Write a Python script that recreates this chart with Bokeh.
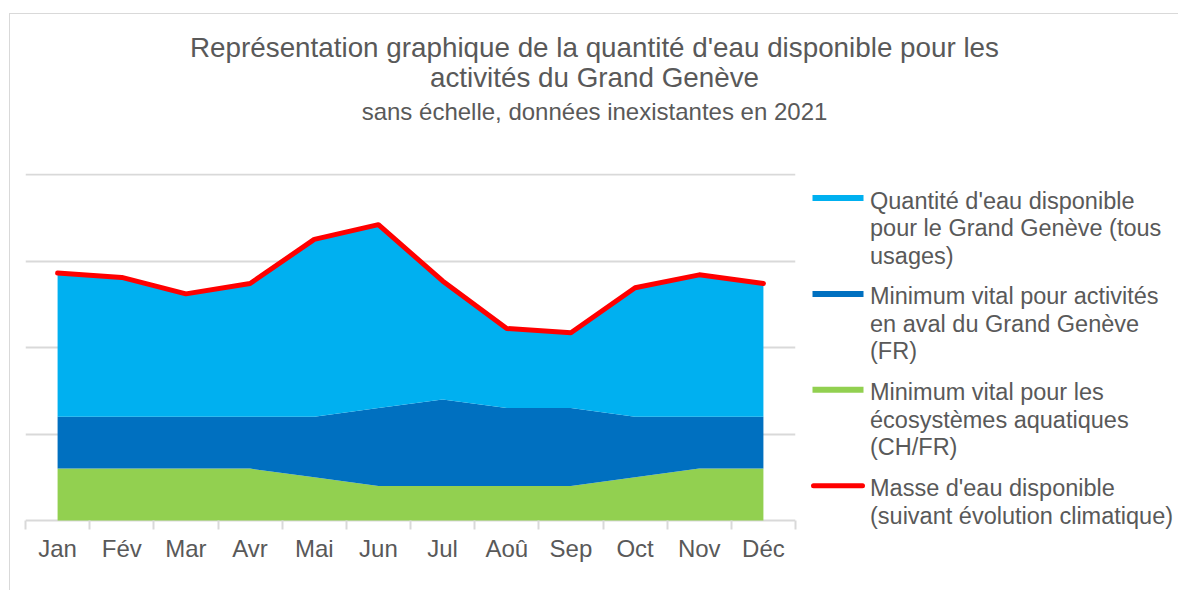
from bokeh.plotting import figure
from bokeh.layouts import column, row
from bokeh.models import ColumnDataSource, Range1d, FixedTicker
from bokeh.core.properties import value
from bokeh.embed import file_html
from bokeh.resources import INLINE

# ---- data (arbitrary units: "sans échelle") ----
months = ["Jan", "Fév", "Mar", "Avr", "Mai", "Jun", "Jul", "Aoû", "Sep", "Oct", "Nov", "Déc"]
eco = [6, 6, 6, 6, 5, 4, 4, 4, 4, 5, 6, 6]                 # Minimum vital écosystèmes aquatiques
aval = [6, 6, 6, 6, 7, 9, 10, 9, 9, 7, 6, 6]               # Minimum vital activités en aval
dispo = [16.6, 16.1, 14.2, 15.4, 20.5, 21.2, 13.7, 9.2, 8.7, 14.9, 16.4, 15.4]  # Quantité disponible
masse = [28.6, 28.1, 26.2, 27.4, 32.5, 34.2, 27.7, 22.2, 21.7, 26.9, 28.4, 27.4]  # Masse d'eau
grid_ticks = [0, 10, 20, 30, 40]

title_lines = ["Représentation graphique de la quantité d'eau disponible pour les",
               "activités du Grand Genève"]
subtitle = "sans échelle, données inexistantes en 2021"
legend_lines = [
    ["Quantité d'eau disponible", "pour le Grand Genève (tous", "usages)"],
    ["Minimum vital pour activités", "en aval du Grand Genève", "(FR)"],
    ["Minimum vital pour les", "écosystèmes aquatiques", "(CH/FR)"],
    ["Masse d'eau disponible", "(suivant évolution climatique)"],
]
area_colors = ["#92D050", "#0070C0", "#00B0F0"]   # bottom -> top
legend_colors = ["#00B0F0", "#0070C0", "#92D050", "#FF0000"]
RED = "#FF0000"
FONT = "Liberation Sans"
TXT = "#595959"
GRID = "#d9d9d9"

# layout geometry (pixels)
TOTAL_W = 1168
TH = 146
MAIN_W, ROW_H = 790, 430
LEG_W = TOTAL_W - MAIN_W
B_TOP, B_BOTTOM = 13, 61
FRAME_H = ROW_H - B_TOP - B_BOTTOM

# ---------------- title strip ----------------
tfig = figure(width=TOTAL_W, height=TH, output_backend="svg", toolbar_location=None,
              x_range=Range1d(0, TOTAL_W), y_range=Range1d(TH, 0),
              min_border=0, x_axis_type=None, y_axis_type=None)
tfig.grid.visible = False
tfig.outline_line_color = None
tfig.text(x=[584, 584], y=[33.4, 62.7], text=title_lines, text_align="center",
          text_baseline="middle", text_font=value(FONT), text_font_size="27.8px",
          text_color=TXT)
tfig.text(x=[584], y=[96.8], text=[subtitle], text_align="center",
          text_baseline="middle", text_font=value(FONT), text_font_size="24px",
          text_color=TXT)

# ---------------- main chart ----------------
idx = list(range(1, len(months) + 1))
src = ColumnDataSource(dict(x=idx, eco=eco, aval=aval, dispo=dispo, masse=masse))

px_per_unit = 346 / 40.0
p = figure(width=MAIN_W, height=ROW_H, output_backend="svg", toolbar_location=None,
           x_range=Range1d(0.5, len(months) + 0.5),
           y_range=Range1d(-9 / px_per_unit, 40 + 1 / px_per_unit),
           min_border_left=15, min_border_right=5,
           min_border_top=B_TOP, min_border_bottom=B_BOTTOM)
p.outline_line_color = None

p.varea_stack(["eco", "aval", "dispo"], x="x", source=src, color=area_colors)
p.line("x", "masse", source=src, line_color=RED, line_width=5,
       line_join="round", line_cap="round")

p.yaxis.visible = False
p.xgrid.visible = False
p.ygrid.ticker = FixedTicker(ticks=grid_ticks)
p.ygrid.grid_line_color = GRID
p.ygrid.grid_line_width = 2

ax = p.xaxis[0]
ax.ticker = FixedTicker(ticks=idx, minor_ticks=[i - 0.5 for i in idx] + [len(months) + 0.5])
ax.major_label_overrides = {i: m for i, m in zip(idx, months)}
ax.major_tick_in = 0
ax.major_tick_out = 0
ax.minor_tick_in = 9
ax.minor_tick_out = 0
ax.minor_tick_line_color = GRID
ax.minor_tick_line_width = 2
ax.axis_line_color = None
ax.major_label_text_font = FONT
ax.major_label_text_font_size = "24px"
ax.major_label_text_color = TXT
ax.major_label_standoff = 5

# ---------------- legend ----------------
lfig = figure(width=LEG_W, height=ROW_H, output_backend="svg", toolbar_location=None,
              x_range=Range1d(0, LEG_W), y_range=Range1d(FRAME_H, 0),
              min_border_left=0, min_border_right=0,
              min_border_top=B_TOP, min_border_bottom=B_BOTTOM,
              x_axis_type=None, y_axis_type=None)
lfig.grid.visible = False
lfig.outline_line_color = None

first_center, entry_pitch, line_pitch = 27.0, 95.9, 27.5
sw_left, sw_right, sw_h, text_x = 12, 63, 6, 69.5
tx, ty, tt = [], [], []
sw_y = []
for k, lines in enumerate(legend_lines):
    c = first_center + k * entry_pitch
    sw_y.append(c - 2.5)
    for j, line_txt in enumerate(lines):
        tx.append(text_x)
        ty.append(c + j * line_pitch)
        tt.append(line_txt)

n_area = 3
lfig.quad(left=[sw_left] * n_area, right=[sw_right] * n_area,
          top=[y - sw_h / 2 for y in sw_y[:n_area]], bottom=[y + sw_h / 2 for y in sw_y[:n_area]],
          fill_color=legend_colors[:n_area], line_color=None)
lfig.segment(x0=[sw_left + 1], x1=[sw_right - 1], y0=[sw_y[3]], y1=[sw_y[3]],
             line_color=legend_colors[3], line_width=5, line_cap="round")
lfig.text(x=tx, y=ty, text=tt, text_align="left", text_baseline="middle",
          text_font=value(FONT), text_font_size="23.5px", text_color=TXT)

layout = column(tfig, row(p, lfig), margin=(13, 0, 0, 9))
layout.styles = {"border-top": "1px solid #d9d9d9", "border-left": "1px solid #d9d9d9"}

open("out.html", "w").write(file_html(layout, INLINE))
